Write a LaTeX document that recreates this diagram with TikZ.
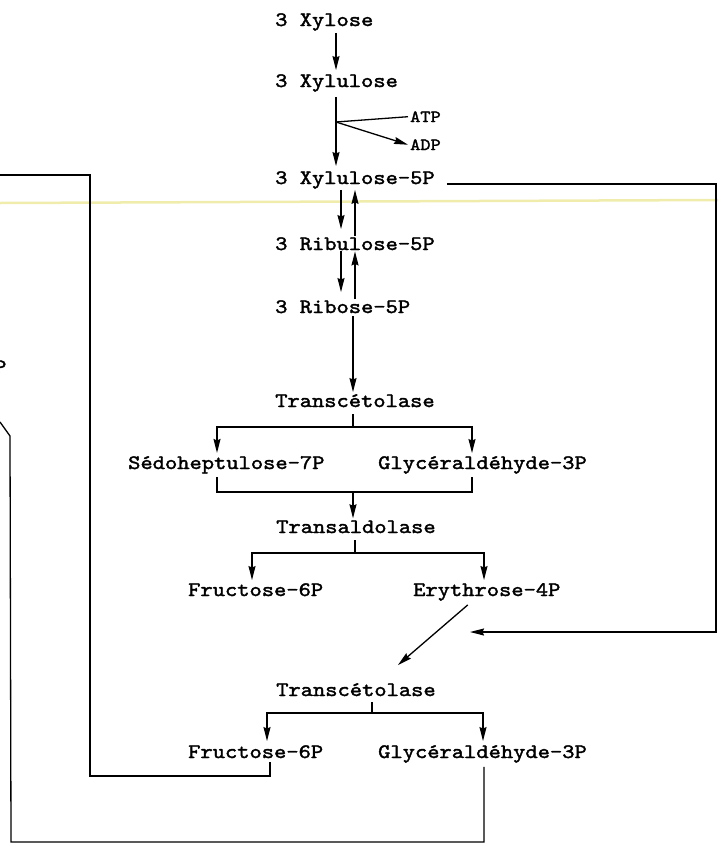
\documentclass[tikz,border=0pt]{standalone}
\usepackage{fontspec}
\setmonofont{lmmono10-regular.otf}[FakeStretch=1.14,FakeBold=1.8]
\usetikzlibrary{arrows.meta}
\definecolor{scanline}{RGB}{240,236,172}
\begin{document}
\begin{tikzpicture}[x=1pt,y=-1pt,
    txt/.style={anchor=base west,inner sep=0pt,font=\ttfamily\fontsize{20.5}{24}\selectfont},
    smalltxt/.style={txt,font=\ttfamily\fontsize{17}{20}\selectfont},
    wire/.style={line width=1.3pt},
    arr/.style={wire,-{Stealth[length=14pt,width=7pt,inset=1.5pt]}}]

    % Page frame and the yellow scan line
    \useasboundingbox (0,0) rectangle (718,846);
    \draw[scanline,line width=2.5pt] (0,203) -- (718,200);

    % Columns of the vertical arrows
    \coordinate (colA) at (336,0);
    \coordinate (colDown) at (341,0);
    \coordinate (colUp) at (355,0);
    \coordinate (colB) at (353,0);
    \coordinate (s7col) at (217,0);
    \coordinate (g3col) at (472,0);
    \coordinate (f6col) at (252,0);
    \coordinate (e4col) at (484,0);
    \coordinate (f6bcol) at (267,0);
    \coordinate (g3bcol) at (483,0);

    % Metabolites and enzymes
    \node[txt] (xyl) at (275,26) {3 Xylose};
    \node[txt] (xlu) at (275,87) {3 Xylulose};
    \node[smalltxt] (atp) at (410,122) {ATP};
    \node[smalltxt] (adp) at (410,150) {ADP};
    \node[txt] (x5p) at (275,184) {3 Xylulose-5P};
    \node[txt] (ru5p) at (275,250) {3 Ribulose-5P};
    \node[txt] (r5p) at (275,313) {3 Ribose-5P};
    \node[txt] (tk1) at (275,407) {Transcétolase};
    \node[txt] (s7p) at (128,469) {Sédoheptulose-7P};
    \node[txt] (g3pa) at (378,469) {Glycéraldéhyde-3P};
    \node[txt] (ta) at (276,533) {Transaldolase};
    \node[txt] (f6pa) at (188,596) {Fructose-6P};
    \node[txt] (e4p) at (413,596) {Erythrose-4P};
    \node[txt] (tk2) at (276,696) {Transcétolase};
    \node[txt] (f6pb) at (188,758) {Fructose-6P};
    \node[txt] (g3pb) at (378,758) {Glycéraldéhyde-3P};
    \node[txt] (cutP) at (-6,373) {P};

    % Xylose to xylulose-5P
    \draw[arr,shorten <=2pt,shorten >=4pt] (xyl.south -| colA) -- (xlu.north -| colA);
    \draw[arr,shorten <=5pt,shorten >=5pt] (xlu.south -| colA) -- (x5p.north -| colA);
    \coordinate (br) at (336,122);
    \draw[wire] (br) -- ([xshift=-2pt]atp.west);
    \draw[arr] (br) -- ([xshift=-2pt]adp.west);

    % Reversible steps
    \draw[arr,shorten <=1pt,shorten >=8pt] (x5p.south -| colDown) -- (ru5p.north -| colDown);
    \draw[arr,shorten <=1pt,shorten >=1pt] (ru5p.north -| colUp) -- (x5p.south -| colUp);
    \draw[arr,shorten <=1pt,shorten >=8pt] (ru5p.south -| colDown) -- (r5p.north -| colDown);
    \draw[arr,shorten <=1pt,shorten >=1pt] (r5p.north -| colUp) -- (ru5p.south -| colUp);
    \draw[arr,shorten <=3pt,shorten >=2pt] (r5p.south -| colB) -- (tk1.north -| colB);

    % First transcetolase
    \coordinate (tk1j) at (353,427);
    \draw[wire,shorten <=7pt] (tk1.south -| tk1j) -- (tk1j);
    \draw[arr,shorten >=3pt] (tk1j) -| (s7p.north -| s7col);
    \draw[arr,shorten >=3pt] (tk1j) -| (g3pa.north -| g3col);
    \coordinate (sgbar) at (353,492);
    \draw[wire,shorten <=3pt] (s7p.south -| s7col) |- (sgbar);
    \draw[wire,shorten >=3pt] (sgbar) -| (g3pa.south -| g3col);
    \draw[arr,shorten >=2pt] (sgbar) -- (ta.north -| sgbar);

    % Transaldolase
    \coordinate (taj) at (355,553);
    \draw[wire,shorten <=7pt] (ta.south -| taj) -- (taj);
    \draw[arr,shorten >=3pt] (taj) -| (f6pa.north -| f6col);
    \draw[arr,shorten >=3pt] (taj) -| (e4p.north -| e4col);

    % Erythrose-4P and the xylulose-5P loop
    \draw[arr] ([xshift=-19pt,yshift=-4pt]e4p.south) -- ([xshift=42pt,yshift=18pt]tk2.north);
    \coordinate (rloop) at (716,632);
    \coordinate (e4pin) at (470,632);
    \draw[arr] ([xshift=12pt]x5p.base east) -| (rloop) -- (e4pin);

    % Second transcetolase
    \coordinate (tk2j) at (372,713);
    \draw[wire,shorten <=6pt] (tk2.south -| tk2j) -- (tk2j);
    \draw[arr,shorten >=4pt] (tk2j) -| (f6pb.north -| f6bcol);
    \draw[arr,shorten >=4pt] (tk2j) -| (g3pb.north -| g3bcol);

    % Return lines to the left
    \coordinate (f6back) at (270,0);
    \coordinate (loopA) at (90,776);
    \coordinate (edgeA) at (0,175);
    \draw[wire,shorten <=4pt] (f6pb.south -| f6back) |- (loopA) |- (edgeA);
    \coordinate (g3back) at (484,0);
    \coordinate (loopB) at (11,842);
    \coordinate (kink) at (10,436);
    \coordinate (edgeB) at (0,422);
    \draw[wire,shorten <=4pt] (g3pb.south -| g3back) |- (loopB) -- (kink) -- (edgeB);
\end{tikzpicture}
\end{document}
